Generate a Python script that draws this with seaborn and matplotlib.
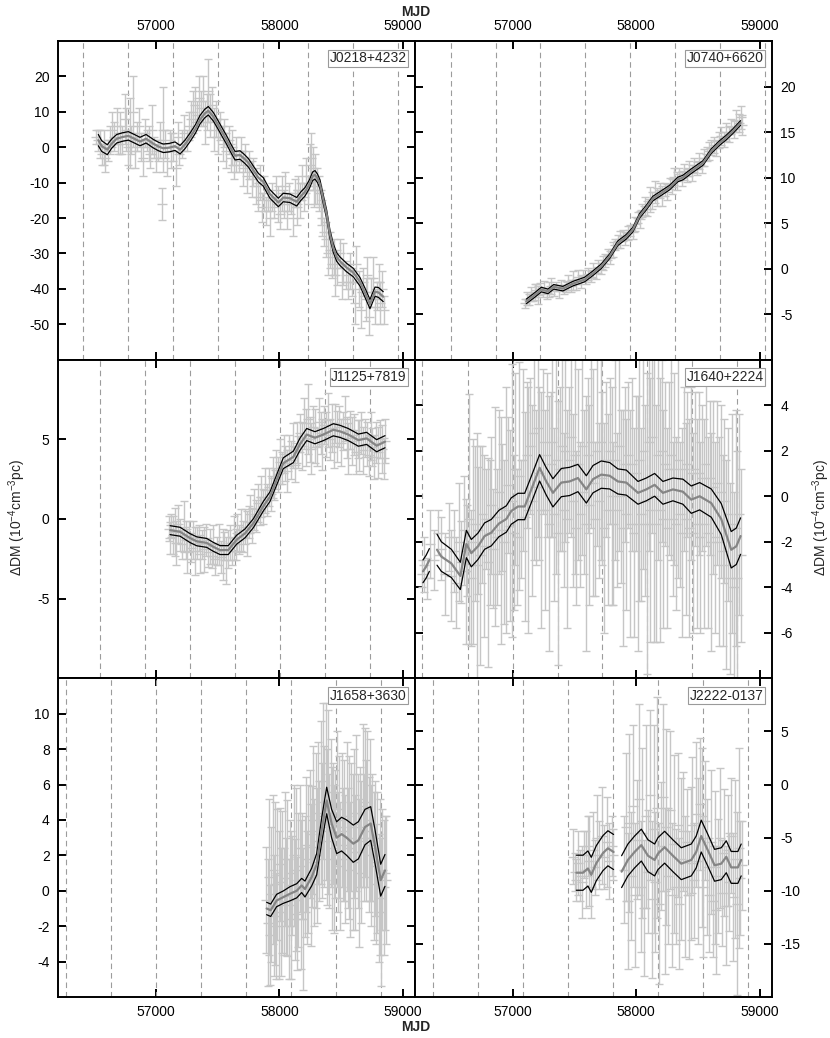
import numpy as np
import pandas as pd
import matplotlib
matplotlib.use("Agg")
import matplotlib.pyplot as plt
import seaborn as sns

sns.set_style("ticks")
plt.rcParams["font.family"] = ["Liberation Sans", "DejaVu Sans"]
plt.rcParams["mathtext.fontset"] = "custom"
plt.rcParams["mathtext.rm"] = "Liberation Sans"
plt.rcParams["mathtext.default"] = "regular"
plt.rcParams["axes.unicode_minus"] = False

# ===================== DATA =====================

# --- J0218+4232 ---
j0218_mjd = [56510, 56530, 56545, 56560, 56575, 56590, 56610, 56625, 56640, 56660,
             56680, 56695, 56710, 56725, 56745, 56760, 56775, 56790, 56800, 56815,
             56830, 56845, 56860, 56880, 56895, 56910, 56925, 56940, 56955, 56970,
             56985, 57000, 57015, 57030, 57045, 57060, 57075, 57090, 57110, 57125,
             57140, 57160, 57175, 57190, 57210, 57230, 57250, 57270, 57285, 57300,
             57320, 57335, 57350, 57365, 57380, 57395, 57410, 57425, 57440, 57455,
             57470, 57490, 57505, 57520, 57540, 57555, 57570, 57590, 57605, 57620,
             57635, 57650, 57670, 57690, 57705, 57720, 57740, 57755, 57775, 57790,
             57810, 57830, 57845, 57860, 57875, 57890, 57910, 57925, 57940, 57955,
             57970, 57990, 58005, 58020, 58035, 58050, 58065, 58080, 58095, 58110,
             58125, 58140, 58155, 58170, 58185, 58200, 58215, 58230, 58245, 58260,
             58270, 58280, 58290, 58305, 58320, 58335, 58350, 58365, 58380, 58395,
             58410, 58425, 58440, 58455, 58470, 58490, 58505, 58520, 58540, 58555,
             58570, 58590, 58610, 58625, 58645, 58660, 58680, 58700, 58715, 58730,
             58745, 58760, 58775, 58790, 58805, 58820, 58835, 58850]
j0218_dm = [3, 2, 1, -2, 0, -3, -1, 2, 5, 3,
            6, 1, 4, 2, 8, 5, 0, 4, 2, 10,
            -1, 3, 6, 0, -3, 4, 2, 1, -2, 5,
            0, -3, -1, 2, -16, 5, 1, -4, 2, -1,
            0, -6, 3, -2, 1, 4, 2, 6, 8, 10,
            12, 9, 14, 11, 13, 7, 10, 16, 9, 12,
            5, 8, 3, 6, 1, 4, -1, 2, -3, 0,
            -5, -2, -4, -1, -6, -3, -8, -5, -9, -7,
            -11, -14, -10, -17, -13, -18, -15, -20, -14, -17,
            -12, -16, -19, -13, -16, -11, -18, -14, -16, -20,
            -13, -17, -12, -15, -10, -14, -8, -12, -5, -3,
            -6, -12, -9, -11, -13, -17, -20, -24, -26, -30,
            -29, -33, -31, -36, -34, -30, -38, -33, -36, -38,
            -35, -38, -44, -33, -40, -46, -38, -43, -36, -48,
            -41, -37, -45, -42, -38, -44, -40, -46]
j0218_err = [2, 3, 4, 3, 5, 4, 3, 4, 5, 4,
             5, 3, 6, 4, 7, 6, 5, 10, 4, 10,
             5, 4, 5, 4, 5, 4, 3, 5, 4, 7,
             3, 4, 3, 5, 4.5, 12, 4, 4, 3, 5,
             4, 5, 4, 3, 4, 5, 3, 4, 5, 6,
             5, 4, 6, 5, 7, 6, 5, 9, 6, 5,
             6, 5, 5, 4, 5, 4, 5, 4, 4, 5,
             4, 5, 3, 4, 5, 4, 5, 4, 5, 4,
             5, 4, 5, 4, 5, 4, 3, 5, 4, 3,
             4, 5, 4, 5, 4, 4, 5, 4, 3, 5,
             4, 5, 4, 5, 5, 4, 5, 4, 6, 7,
             6, 5, 7, 5, 5, 5, 5, 4, 5, 6,
             5, 4, 5, 6, 5, 4, 5, 6, 4, 5,
             5, 4, 6, 5, 5, 5, 4, 6, 5, 5,
             4, 6, 5, 4, 5, 6, 5, 4]
j0218_mod_mjd = [56532, 56560, 56605, 56640, 56681, 56730, 56776, 56830, 56870, 56919,
                 56978, 57020, 57059, 57110, 57154, 57195, 57235, 57276, 57320, 57357,
                 57395, 57424, 57465, 57505, 57540, 57573, 57610, 57641, 57681, 57715,
                 57749, 57789, 57830, 57870, 57924, 57992, 58032, 58086, 58141, 58175,
                 58208, 58243, 58270, 58289, 58310, 58330, 58355, 58384, 58410, 58438,
                 58465, 58492, 58546, 58600, 58654, 58700, 58735, 58776, 58803, 58843]
j0218_mod_dm = [2.0, 0.3, -0.7, 1.0, 2.4, 2.9, 3.2, 2.3, 1.6, 2.4,
                1.0, 0.2, -0.3, -0.1, 0.3, -0.7, 0.8, 2.8, 5.2, 7.8,
                9.5, 10.3, 8.6, 6.2, 4.0, 2.0, -0.5, -2.4, -2.2, -3.2,
                -4.4, -6.5, -8.6, -9.8, -13.2, -15.6, -14.2, -14.4, -15.4, -13.8,
                -12.6, -10.5, -8.2, -7.8, -8.8, -10.5, -14.5, -19.0, -24.5, -28.5,
                -31.0, -32.2, -34.0, -35.4, -38.0, -41.5, -44.3, -40.8, -41.0, -42.2]
j0218_mod_w = [1.6, 1.5, 1.4, 1.3, 1.2, 1.2, 1.2, 1.2, 1.2, 1.2,
               1.2, 1.2, 1.2, 1.2, 1.2, 1.2, 1.2, 1.2, 1.2, 1.2,
               1.2, 1.2, 1.2, 1.2, 1.2, 1.2, 1.2, 1.2, 1.2, 1.2,
               1.2, 1.2, 1.2, 1.2, 1.2, 1.2, 1.2, 1.2, 1.2, 1.2,
               1.2, 1.2, 1.2, 1.2, 1.2, 1.2, 1.2, 1.2, 1.2, 1.2,
               1.2, 1.2, 1.2, 1.2, 1.2, 1.3, 1.3, 1.3, 1.4, 1.4]
j0218_years = [56410, 56775, 57140, 57505, 57870, 58235, 58600, 58965]

# --- J0740+6620 ---
j0740_mjd = [57100, 57115, 57130, 57145, 57160, 57175, 57190, 57205, 57220, 57240,
             57255, 57275, 57290, 57310, 57330, 57350, 57370, 57390, 57410, 57430,
             57450, 57470, 57490, 57510, 57530, 57550, 57570, 57590, 57610, 57630,
             57650, 57670, 57690, 57710, 57730, 57750, 57770, 57790, 57810, 57830,
             57850, 57870, 57890, 57910, 57930, 57950, 57970, 57990, 58010, 58030,
             58050, 58070, 58090, 58110, 58130, 58150, 58170, 58190, 58210, 58230,
             58250, 58270, 58290, 58310, 58330, 58350, 58370, 58390, 58410, 58430,
             58450, 58470, 58490, 58510, 58530, 58550, 58570, 58590, 58610, 58630,
             58650, 58670, 58690, 58710, 58730, 58750, 58770, 58790, 58810, 58830,
             58850, 58860]
j0740_dm = [-3.8, -3.3, -3.4, -2.8, -3.1, -2.6, -2.4, -2.9, -2.2, -2.6,
            -2.1, -2.7, -2.3, -1.9, -2.4, -2.0, -2.5, -1.8, -2.3, -2.0,
            -1.5, -1.9, -1.3, -1.7, -0.9, -1.4, -0.8, -1.2, -0.6, -0.9,
            -0.2, -0.5, 0.2, 0.0, 0.6, 0.9, 1.5, 1.2, 2.1, 2.6,
            3.0, 3.2, 3.6, 3.3, 3.9, 4.2, 4.0, 4.9, 5.6, 5.4,
            6.4, 6.9, 6.6, 7.6, 7.5, 8.4, 7.9, 8.6, 8.0, 8.7,
            8.4, 9.3, 9.0, 10.1, 9.6, 10.4, 9.9, 10.6, 10.2, 11.0,
            10.5, 11.4, 11.0, 11.8, 11.3, 12.2, 12.6, 12.9, 13.3, 13.6,
            13.2, 14.1, 14.6, 14.2, 15.0, 14.8, 15.6, 15.3, 16.2, 16.0,
            16.6, 15.8]
j0740_err = [0.5, 0.7, 0.6, 0.8, 0.5, 0.9, 0.7, 1.0, 0.6, 0.5,
             0.7, 0.6, 0.8, 0.9, 0.6, 0.5, 0.7, 0.6, 0.5, 0.6,
             0.8, 0.7, 1.0, 0.6, 0.8, 0.7, 0.6, 0.5, 0.7, 0.6,
             0.8, 0.6, 0.7, 0.6, 0.8, 0.7, 0.6, 0.7, 0.8, 0.6,
             0.7, 0.9, 0.6, 0.7, 0.8, 0.6, 0.7, 0.8, 0.6, 0.9,
             0.7, 1.0, 0.8, 1.4, 0.9, 1.2, 1.0, 0.8, 1.1, 0.7,
             0.9, 0.6, 0.8, 0.9, 1.0, 0.7, 0.8, 0.9, 0.7, 0.8,
             0.9, 0.8, 0.7, 0.9, 0.8, 0.9, 0.8, 1.0, 0.8, 0.9,
             0.8, 0.9, 1.0, 0.8, 1.0, 0.9, 0.8, 1.0, 1.2, 1.0,
             1.3, 1.1]
j0740_mod_mjd = [57108, 57176, 57230, 57284, 57330, 57405, 57486, 57581, 57649, 57716,
                 57784, 57851, 57919, 57973, 58027, 58081, 58135, 58203, 58270, 58338,
                 58378, 58446, 58541, 58608, 58676, 58730, 58784, 58846]
j0740_mod_dm = [-3.6, -2.9, -2.3, -2.5, -2.0, -2.2, -1.65, -1.2, -0.5, 0.26,
                1.36, 2.8, 3.5, 4.3, 5.8, 6.7, 7.7, 8.3, 8.9, 9.8,
                10.0, 10.7, 11.6, 12.9, 13.8, 14.4, 15.1, 16.0]
j0740_mod_w = [0.25] * 28
j0740_years = [56495, 56859, 57221, 57586, 57951, 58316, 58681, 59043]

# --- J1125+7819 ---
j1125_mjd = [57105, 57115, 57125, 57135, 57150, 57165, 57180, 57195, 57210, 57225,
             57240, 57255, 57270, 57285, 57300, 57315, 57330, 57345, 57360, 57375,
             57390, 57405, 57420, 57435, 57450, 57465, 57480, 57495, 57510, 57525,
             57540, 57555, 57570, 57585, 57600, 57615, 57630, 57645, 57660, 57675,
             57690, 57705, 57720, 57735, 57750, 57765, 57780, 57795, 57810, 57825,
             57840, 57855, 57870, 57885, 57900, 57915, 57930, 57945, 57960, 57975,
             57990, 58005, 58020, 58035, 58050, 58065, 58080, 58095, 58110, 58125,
             58140, 58155, 58170, 58185, 58200, 58215, 58230, 58245, 58260, 58275,
             58290, 58305, 58320, 58335, 58350, 58365, 58380, 58395, 58410, 58425,
             58440, 58455, 58470, 58485, 58500, 58515, 58530, 58545, 58560, 58575,
             58590, 58605, 58620, 58635, 58650, 58665, 58680, 58695, 58710, 58725,
             58740, 58755, 58770, 58785, 58800, 58815, 58830, 58845, 58858]
j1125_dm = [-0.6, -1.2, -0.4, -1.0, -0.8, -1.5, -0.3, -1.0, -1.6, -0.5,
            -1.3, -2.0, -1.1, -1.8, -1.3, -2.0, -1.5, -1.2, -2.2, -1.6,
            -1.9, -1.3, -2.1, -1.7, -2.3, -1.6, -2.5, -2.0, -1.6, -2.4,
            -2.2, -1.7, -2.6, -1.9, -1.5, -2.0, -1.2, -1.6, -0.9, -1.3,
            -0.7, -1.1, -0.5, -0.9, -0.2, 0.3, -0.4, 0.6, 0.2, 1.0,
            0.5, 1.4, 0.8, 1.8, 1.2, 2.0, 1.6, 2.6, 2.2, 3.1,
            2.8, 3.6, 3.2, 4.1, 3.5, 3.0, 4.3, 3.7, 4.6, 3.4,
            4.8, 4.2, 5.4, 4.6, 6.0, 5.1, 6.3, 5.0, 4.4, 5.8,
            5.2, 4.5, 6.1, 5.4, 4.7, 5.9, 5.3, 6.2, 5.0, 5.7,
            4.6, 6.0, 5.2, 5.8, 4.8, 5.5, 6.3, 5.1, 4.4, 5.6,
            4.9, 5.3, 4.2, 5.0, 4.6, 5.4, 4.3, 5.1, 4.7, 4.0,
            5.2, 4.5, 3.9, 4.8, 4.2, 5.0, 4.4, 3.8, 4.9]
j1125_err = [0.8, 1.0, 0.7, 1.2, 1.5, 1.4, 1.2, 1.0, 0.9, 1.6,
             1.2, 1.4, 1.0, 0.9, 1.2, 1.5, 1.0, 0.8, 1.2, 0.9,
             1.4, 1.0, 0.9, 1.1, 0.8, 1.2, 1.0, 0.9, 1.3, 1.0,
             1.6, 0.9, 1.5, 1.2, 1.1, 0.9, 1.4, 1.0, 1.2, 0.9,
             1.3, 1.0, 1.1, 1.4, 1.0, 1.2, 1.1, 1.3, 1.0, 1.2,
             0.9, 1.3, 1.1, 1.4, 1.0, 1.2, 1.1, 1.3, 1.0, 1.2,
             1.1, 1.4, 1.0, 1.2, 1.1, 1.3, 1.0, 1.2, 1.4, 1.1,
             1.3, 1.0, 1.2, 1.5, 1.6, 1.8, 2.2, 1.4, 1.6, 1.3,
             1.7, 1.2, 1.5, 1.3, 1.6, 1.2, 1.4, 1.7, 1.3, 1.5,
             1.4, 1.2, 1.6, 1.3, 1.5, 1.2, 1.4, 1.3, 1.6, 1.2,
             1.5, 1.3, 1.4, 1.2, 1.6, 1.3, 1.5, 1.2, 1.4, 1.3,
             1.5, 1.2, 1.4, 1.3, 1.6, 1.2, 1.5, 1.3, 1.4]
j1125_mod_mjd = [57114, 57195, 57276, 57330, 57411, 57465, 57519, 57586, 57654, 57722,
                 57789, 57870, 57924, 57978, 58032, 58114, 58168, 58222, 58289, 58357,
                 58438, 58492, 58559, 58641, 58708, 58789, 58857]
j1125_mod_dm = [-0.7, -0.8, -1.2, -1.4, -1.5, -1.75, -1.95, -1.95, -1.3, -0.9,
                -0.27, 0.8, 1.4, 2.45, 3.5, 3.9, 4.7, 5.3, 5.1, 5.3,
                5.6, 5.5, 5.3, 4.95, 5.06, 4.6, 4.85]
j1125_mod_w = [0.28, 0.28, 0.28, 0.28, 0.28, 0.28, 0.28, 0.28, 0.28, 0.28,
               0.28, 0.3, 0.3, 0.32, 0.34, 0.36, 0.38, 0.38, 0.38, 0.38,
               0.38, 0.38, 0.38, 0.38, 0.38, 0.38, 0.38]
j1125_years = [56548, 56913, 57278, 57643, 58008, 58373, 58738]

# --- J1640+2224 ---
j1640_mjd = [56260, 56280, 56300, 56330, 56360, 56390, 56420, 56450, 56480, 56500,
             56520, 56540, 56560, 56580, 56600, 56615, 56630, 56645, 56660, 56675,
             56690, 56705, 56720, 56735, 56750, 56765, 56780, 56795, 56810, 56825,
             56840, 56855, 56870, 56885, 56900, 56915, 56930, 56945, 56960, 56975,
             56990, 57005, 57020, 57035, 57050, 57065, 57080, 57095, 57110, 57125,
             57140, 57155, 57170, 57185, 57200, 57215, 57230, 57245, 57260, 57275,
             57290, 57305, 57320, 57335, 57350, 57365, 57380, 57395, 57410, 57425,
             57440, 57455, 57470, 57485, 57500, 57515, 57530, 57545, 57560, 57575,
             57590, 57605, 57620, 57635, 57650, 57665, 57680, 57695, 57710, 57725,
             57740, 57755, 57770, 57785, 57800, 57815, 57830, 57845, 57860, 57875,
             57890, 57905, 57920, 57935, 57950, 57965, 57980, 57995, 58010, 58025,
             58040, 58055, 58070, 58085, 58100, 58115, 58130, 58145, 58160, 58175,
             58190, 58205, 58220, 58235, 58250, 58265, 58280, 58295, 58310, 58325,
             58340, 58355, 58370, 58385, 58400, 58415, 58430, 58445, 58460, 58475,
             58490, 58505, 58520, 58535, 58550, 58565, 58580, 58595, 58610, 58625,
             58640, 58655, 58670, 58685, 58700, 58715, 58730, 58745, 58760, 58775,
             58790, 58805, 58820, 58835, 58850]
j1640_dm = [-3.4, -3.0, -3.6, -2.1, -2.8, -1.6, -2.3, -3.4, -1.8, -3.5,
            -2.4, -3.8, -2.0, -2.9, -1.5, -3.3, -2.4, -1.0, -3.6, -2.0,
            -1.2, -3.0, -1.5, -2.6, -0.8, -2.2, -1.0, -2.9, -1.6, -0.4,
            -2.3, -0.9, -1.8, 0.2, -1.5, -0.5, -2.0, -0.6, 0.5, -1.3,
            -0.2, -1.6, 1.2, -1.8, 0.9, -1.0, 1.6, -0.9, 1.8, -0.6,
            2.2, -0.2, 2.8, 0.4, 3.0, 1.0, -0.6, 2.4, -0.6, 1.8,
            -1.2, 1.4, 2.4, -0.8, 1.6, -1.6, 1.2, 2.2, -0.6, 2.0,
            -1.0, 1.6, 2.6, -0.2, 1.8, -1.4, 1.4, -0.8, 2.2, 0.2,
            -1.2, 1.8, -0.4, 2.4, 0.6, -1.0, 2.0, -0.2, 2.4, 0.8,
            -1.4, 1.6, -0.6, 2.0, 0.0, -1.2, 1.6, -0.6, 2.2, 0.0,
            -1.4, 1.4, -0.8, 1.8, -1.2, 1.4, -1.6, 1.0, -1.2, 1.6,
            -0.8, 2.0, -0.2, -1.2, 2.4, -0.6, 2.6, 0.0, -1.2, 1.8,
            -0.6, 2.0, -1.0, 1.4, -1.4, 1.2, 1.8, -1.0, 1.2, -1.2,
            1.6, -0.8, -1.6, 1.2, -1.0, 1.4, -1.4, 1.0, -1.6, 1.2,
            -1.2, 1.0, -1.8, 0.8, -1.2, 1.4, -1.6, 0.8, -2.0, 0.4,
            -1.8, 0.6, -2.0, 0.2, -2.4, -0.2, -3.0, -0.8, -3.6, -1.2,
            -4.0, -1.4, -3.6, -0.8, -2.6]
j1640_err = [0.6, 1.2, 0.9, 1.5, 1.3, 1.0, 1.4, 1.8, 1.5, 2.0,
             1.8, 2.0, 2.6, 1.8, 2.4, 3.2, 2.0, 5.5, 3.0, 4.5,
             3.4, 5.8, 2.8, 4.8, 3.0, 4.0, 2.2, 4.6, 3.2, 3.0,
             2.6, 4.8, 3.0, 3.6, 5.0, 2.8, 3.6, 5.4, 3.0, 4.2,
             6.0, 3.4, 4.2, 3.0, 5.0, 2.6, 4.0, 4.6, 3.2, 5.4,
             3.0, 4.2, 5.6, 3.4, 4.8, 3.8, 5.2, 3.2, 4.4, 3.6,
             5.6, 3.2, 4.2, 3.8, 5.0, 5.8, 3.6, 4.6, 3.4, 4.0,
             4.8, 3.2, 4.4, 3.8, 5.2, 3.4, 4.2, 3.2, 4.8, 3.6,
             5.6, 3.4, 4.4, 3.8, 5.0, 3.4, 4.2, 3.4, 5.2, 3.8,
             4.6, 3.4, 4.2, 3.2, 4.8, 3.6, 4.4, 3.4, 4.6, 3.8,
             5.2, 3.4, 4.2, 3.2, 5.0, 3.8, 4.6, 3.4, 5.6, 6.2,
             3.8, 5.2, 4.2, 6.6, 4.8, 5.8, 4.2, 6.4, 5.2, 4.6,
             5.8, 4.0, 4.8, 3.6, 4.4, 3.8, 4.6, 3.4, 4.2, 3.8,
             5.2, 3.2, 4.6, 3.6, 4.2, 3.2, 4.8, 3.8, 4.4, 3.4,
             4.6, 3.6, 4.2, 3.2, 4.6, 3.6, 4.2, 3.4, 4.8, 3.8,
             4.2, 3.6, 4.6, 3.8, 4.2, 3.6, 4.6, 3.8, 4.2, 4.8,
             4.2, 5.2, 5.6, 4.4, 3.8]
j1640_mod_mjd = [56270, 56295, 56322,
                 56384, 56419, 56500, 56573, 56622, 56662, 56716, 56770, 56824, 56886,
                 56946, 56986, 57041, 57095, 57149, 57216, 57270, 57324, 57392, 57459,
                 57527, 57595, 57649, 57716, 57784, 57851, 57919, 58014, 58081, 58149,
                 58216, 58297, 58378, 58446, 58514, 58608, 58689, 58770, 58811, 58846]
j1640_mod_dm = [-3.3, -3.1, -2.8,
                -2.35, -2.65, -2.95, -3.5, -2.1, -2.5, -2.2, -1.75, -1.6, -1.2,
                -1.0, -0.65, -0.45, -0.45, 0.3, 1.25, 0.65, 0.15, 0.6, 0.65,
                0.8, 0.3, 0.75, 0.95, 0.9, 0.65, 0.6, 0.15, 0.3, 0.5,
                0.15, 0.3, 0.2, -0.15, 0.0, -0.3, -1.0, -2.35, -2.2, -1.75]
j1640_mod_w = [0.5, 0.5, 0.5,
               0.68, 0.65, 0.62, 0.6, 0.6, 0.6, 0.58, 0.58, 0.58, 0.58,
               0.58, 0.58, 0.58, 0.58, 0.58, 0.58, 0.6, 0.62, 0.62, 0.62,
               0.6, 0.6, 0.6, 0.6, 0.58, 0.55, 0.55, 0.5, 0.5, 0.5,
               0.5, 0.5, 0.55, 0.6, 0.6, 0.62, 0.68, 0.8, 0.8, 0.8]
j1640_mod_seg = [0, 0, 0,
                 1, 1, 1, 1, 1, 1, 1, 1, 1, 1,
                 1, 1, 1, 1, 1, 1, 1, 1, 1, 1,
                 1, 1, 1, 1, 1, 1, 1, 1, 1, 1,
                 1, 1, 1, 1, 1, 1, 1, 1, 1, 1]
j1640_years = [56264, 56632, 56997, 57362, 57724, 58089, 58454, 58816]

# --- J1658+3630 ---
j1658_mjd = [57895, 57905, 57915, 57925, 57935, 57945, 57955, 57965, 57975, 57985,
             57995, 58005, 58015, 58025, 58035, 58045, 58055, 58065, 58075, 58085,
             58095, 58105, 58115, 58125, 58135, 58145, 58155, 58165, 58175, 58185,
             58195, 58205, 58215, 58225, 58235, 58245, 58255, 58265, 58275, 58285,
             58295, 58305, 58315, 58325, 58335, 58345, 58355, 58365, 58375, 58385,
             58395, 58405, 58415, 58425, 58435, 58445, 58455, 58465, 58475, 58485,
             58495, 58505, 58515, 58525, 58535, 58545, 58555, 58565, 58575, 58585,
             58595, 58605, 58615, 58625, 58635, 58645, 58655, 58665, 58675, 58685,
             58695, 58705, 58715, 58725, 58735, 58745, 58755, 58765, 58775, 58785,
             58795, 58805, 58815, 58825, 58835, 58845, 58855, 58865]
j1658_dm = [-0.5, -1.8, 0.8, -2.5, -0.2, 1.2, -1.4, 0.4, -2.0, 0.9,
            -0.8, 1.5, -1.2, 0.5, -0.6, 1.8, -0.3, 0.7, -1.6, 1.0,
            -0.8, 0.3, 2.0, -0.5, 1.2, -1.3, 0.6, 2.4, -0.2, 1.4,
            -1.6, 0.8, 2.6, 0.2, 1.8, 3.2, 0.9, 2.5, 4.0, 1.6,
            3.4, 2.0, 4.4, 2.8, 5.0, 3.4, 6.2, 4.2, 5.6, 3.6,
            5.0, 2.8, 4.4, 2.4, 3.8, 1.8, 3.2, 4.6, 2.2, 3.6,
            1.4, 4.0, 2.6, 3.4, 1.8, 4.2, 2.4, 3.0, 1.2, 3.6,
            2.2, 3.8, 1.6, 4.4, 2.8, 1.0, 3.6, 2.2, 4.8, 3.0,
            5.0, 3.4, 4.6, 2.6, 4.0, 2.0, 3.0, 1.4, 2.4, 0.4,
            1.6, -0.4, 0.8, -1.2, 1.2, 0.2, 1.0, 0.6]
j1658_err = [3.0, 3.6, 4.4, 2.8, 3.8, 4.2, 3.4, 4.6, 3.0, 3.7,
             4.2, 3.2, 3.6, 4.0, 3.0, 3.8, 3.3, 4.4, 3.4, 3.0,
             4.2, 2.8, 4.0, 3.4, 4.6, 3.2, 3.8, 3.6, 4.2, 3.0,
             4.0, 3.4, 3.8, 3.2, 4.2, 3.6, 4.0, 3.4, 4.2, 3.6,
             4.4, 3.8, 4.0, 3.4, 4.6, 3.8, 4.4, 4.0, 5.0, 4.4,
             5.2, 3.8, 4.2, 4.6, 3.4, 4.2, 3.6, 4.4, 3.4, 4.0,
             3.6, 3.8, 3.2, 4.0, 3.6, 4.2, 3.4, 4.6, 3.8, 3.6,
             4.4, 4.2, 3.8, 4.4, 3.8, 4.2, 3.4, 4.0, 4.6, 3.6,
             4.2, 4.0, 4.4, 3.8, 4.6, 4.0, 3.6, 4.2, 3.8, 3.4,
             4.0, 3.6, 4.4, 4.2, 3.4, 3.8, 3.2, 3.6]
j1658_mod_mjd = [57897, 57930, 57978, 58032, 58086, 58141, 58181, 58208, 58262, 58303,
                 58343, 58384, 58424, 58465, 58505, 58546, 58600, 58641, 58695, 58741,
                 58776, 58822, 58857]
j1658_mod_dm = [-1.0, -1.1, -0.55, -0.36, -0.17, 0.0, 0.3, 0.1, 0.77, 1.5,
                3.4, 5.1, 3.8, 3.0, 3.2, 3.0, 2.66, 2.85, 3.6, 3.8,
                2.5, 0.6, 1.15]
j1658_mod_w = [0.35, 0.35, 0.35, 0.35, 0.4, 0.4, 0.4, 0.45, 0.5, 0.6,
               0.7, 0.75, 0.8, 0.9, 0.95, 1.0, 1.05, 1.05, 1.0, 0.95,
               0.95, 0.9, 0.9]
j1658_years = [56270, 56632, 56997, 57362, 57727, 58092, 58457, 58822]

# --- J2222-0137 ---
j2222_mjd = [57485, 57500, 57515, 57530, 57545, 57560, 57575, 57590, 57605, 57620,
             57635, 57650, 57665, 57680, 57700, 57720, 57740, 57760, 57780, 57800,
             57815, 57900, 57915, 57930, 57945, 57960, 57975, 57990, 58005, 58020,
             58035, 58050, 58065, 58080, 58095, 58110, 58125, 58140, 58155, 58170,
             58185, 58200, 58215, 58230, 58245, 58260, 58275, 58290, 58305, 58320,
             58335, 58350, 58365, 58380, 58395, 58410, 58425, 58440, 58455, 58470,
             58485, 58500, 58515, 58530, 58545, 58560, 58575, 58590, 58605, 58620,
             58635, 58650, 58665, 58680, 58695, 58710, 58725, 58740, 58755, 58770,
             58785, 58800, 58815, 58830, 58845, 58860]
j2222_dm = [-6.8, -8.2, -9.0, -7.4, -8.6, -9.2, -6.6, -8.0, -5.8, -7.2,
            -9.6, -6.2, -7.8, -5.0, -6.6, -4.8, -6.8, -5.4, -7.2, -5.8,
            -6.6, -8.0, -4.0, -11.0, -3.6, -8.6, -2.0, -10.4, -5.2, -1.4,
            -9.6, -4.6, -11.6, -3.0, -8.2, -1.0, -10.8, -4.2, -9.2, -2.2,
            -11.2, -5.8, -1.2, -10.0, -4.0, -8.6, -2.4, -10.4, -5.6, -9.6,
            -3.8, -11.2, -7.0, -4.4, -9.6, -5.4, -10.4, -7.4, -3.8, -9.0,
            -2.8, -7.2, -1.8, -5.0, -9.6, -3.4, -7.8, -10.4, -5.4, -11.0,
            -7.8, -11.8, -8.6, -5.0, -10.2, -6.4, -11.4, -6.2, -9.2, -4.8,
            -10.6, -7.0, -11.2, -6.0, -8.8, -7.6]
j2222_err = [2.6, 1.8, 2.0, 3.0, 2.4, 3.4, 2.2, 3.6, 2.8, 4.2,
             3.0, 3.6, 2.6, 4.0, 3.2, 4.6, 3.0, 4.2, 3.6, 2.8,
             2.4, 5.0, 7.0, 6.4, 8.4, 6.0, 7.6, 6.8, 5.6, 9.0,
             6.2, 8.0, 6.4, 8.6, 5.8, 8.0, 7.4, 9.8, 6.6, 10.4,
             7.6, 6.0, 8.8, 7.8, 9.2, 6.4, 7.4, 6.8, 8.4, 5.4,
             6.8, 6.2, 7.6, 5.6, 6.6, 5.0, 6.0, 7.2, 6.4, 5.4,
             6.8, 7.8, 6.2, 8.4, 6.6, 5.6, 6.4, 5.4, 6.8, 5.2,
             7.2, 6.0, 5.4, 6.6, 5.0, 6.0, 5.6, 5.2, 4.6, 5.4,
             6.0, 7.4, 8.6, 9.4, 5.4, 4.2]
j2222_mod_mjd = [57514, 57568, 57608, 57635, 57676, 57730, 57770, 57816,
                 57881, 57932, 57986, 58041, 58095, 58149, 58176, 58230, 58297, 58365,
                 58446, 58486, 58527, 58581, 58635, 58689, 58730, 58770, 58824, 58851]
j2222_mod_dm = [-8.3, -8.3, -7.9, -8.5, -7.4, -6.45, -6.0, -6.35,
                -8.2, -7.1, -6.35, -5.7, -6.7, -7.1, -6.5, -5.9, -6.7, -7.45,
                -7.1, -6.35, -4.85, -6.2, -7.6, -7.45, -6.8, -7.8, -7.8, -7.1]
j2222_mod_w = [1.65] * 8 + [1.5] * 20
j2222_mod_seg = [0] * 8 + [1] * 20
j2222_years = [56351, 56716, 57081, 57446, 57811, 58173, 58538, 58903]

# ===================== PANEL SETUP =====================

panels = [
    dict(name="J0218+4232", mjd=j0218_mjd, dm=j0218_dm, err=j0218_err,
         mod_mjd=j0218_mod_mjd, mod_dm=j0218_mod_dm, mod_w=j0218_mod_w,
         years=j0218_years, ylim=(-60, 30), yticks=range(-50, 21, 10)),
    dict(name="J0740+6620", mjd=j0740_mjd, dm=j0740_dm, err=j0740_err,
         mod_mjd=j0740_mod_mjd, mod_dm=j0740_mod_dm, mod_w=j0740_mod_w,
         years=j0740_years, ylim=(-10, 25), yticks=range(-5, 21, 5)),
    dict(name="J1125+7819", mjd=j1125_mjd, dm=j1125_dm, err=j1125_err,
         mod_mjd=j1125_mod_mjd, mod_dm=j1125_mod_dm, mod_w=j1125_mod_w,
         years=j1125_years, ylim=(-10, 10), yticks=[-5, 0, 5]),
    dict(name="J1640+2224", mjd=j1640_mjd, dm=j1640_dm, err=j1640_err,
         mod_mjd=j1640_mod_mjd, mod_dm=j1640_mod_dm, mod_w=j1640_mod_w,
         seg=j1640_mod_seg, years=j1640_years, ylim=(-8, 6), yticks=range(-6, 5, 2)),
    dict(name="J1658+3630", mjd=j1658_mjd, dm=j1658_dm, err=j1658_err,
         mod_mjd=j1658_mod_mjd, mod_dm=j1658_mod_dm, mod_w=j1658_mod_w,
         years=j1658_years, ylim=(-6, 12), yticks=range(-4, 11, 2)),
    dict(name="J2222-0137", mjd=j2222_mjd, dm=j2222_dm, err=j2222_err,
         mod_mjd=j2222_mod_mjd, mod_dm=j2222_mod_dm, mod_w=j2222_mod_w,
         seg=j2222_mod_seg, years=j2222_years, ylim=(-20, 10), yticks=range(-15, 6, 5)),
]

fig, axes = plt.subplots(3, 2, figsize=(8.3, 10.38), dpi=100)
plt.subplots_adjust(left=0.0699, right=0.930, top=0.9605, bottom=0.0395,
                    hspace=0, wspace=0)

for i, (ax, p) in enumerate(zip(axes.flat, panels)):
    row, col = divmod(i, 2)

    # yearly reference lines
    for yr in p["years"]:
        ax.axvline(yr, color="#9c9c9c", lw=0.8, ls=(0, (5, 3.5)), zorder=1)

    # measured DM values
    ax.errorbar(p["mjd"], p["dm"], yerr=p["err"], fmt="_", ms=7, mew=1.0,
                color="#c6c6c6", ecolor="#c6c6c6", elinewidth=1.0,
                capsize=3.2, capthick=1.0, zorder=2)

    # model with uncertainty envelope
    mod = pd.DataFrame({"mjd": p["mod_mjd"], "dm": p["mod_dm"], "w": p["mod_w"],
                        "seg": p.get("seg", [0] * len(p["mod_mjd"]))})
    mod["hi"] = mod["dm"] + mod["w"]
    mod["lo"] = mod["dm"] - mod["w"]
    for ycol, c, lw in [("hi", "black", 0.9), ("lo", "black", 0.9), ("dm", "#858585", 1.6)]:
        sns.lineplot(data=mod, x="mjd", y=ycol, units="seg", estimator=None,
                     sort=False, color=c, lw=lw, ax=ax, zorder=3)
    ax.set(xlabel="", ylabel="")

    ax.set_xlim(56205, 59100)
    ax.set_ylim(*p["ylim"])
    ax.set_xticks([57000, 58000, 59000])
    ax.set_yticks(list(p["yticks"]))

    ax.tick_params(axis="both", which="major", direction="in", length=5.8, width=1.4,
                   top=True, bottom=True, left=True, right=True, labelsize=10,
                   pad=6, colors="black")
    ax.tick_params(axis="x", labeltop=(row == 0), labelbottom=(row == 2))
    ax.tick_params(axis="y", labelleft=(col == 0), labelright=(col == 1))
    for s in ax.spines.values():
        s.set_linewidth(1.4)
        s.set_color("black")

    ax.text(0.977, 0.968, p["name"], transform=ax.transAxes, ha="right", va="top",
            fontsize=10, zorder=5,
            bbox=dict(boxstyle="square,pad=0.12", fc="white", ec="#9a9a9a", lw=0.8))

fig.text(0.501, 0.9887, "MJD", ha="center", va="center", fontsize=10, fontweight="bold")
fig.text(0.501, 0.0106, "MJD", ha="center", va="center", fontsize=10, fontweight="bold")
ylab = r"$\Delta$DM (10$^{-4}$cm$^{-3}$pc)"
fig.text(0.0205, 0.501, ylab, rotation=90, ha="center", va="center", fontsize=10)
fig.text(0.989, 0.501, ylab, rotation=90, ha="center", va="center", fontsize=10)

plt.savefig("out.png", dpi=100)
